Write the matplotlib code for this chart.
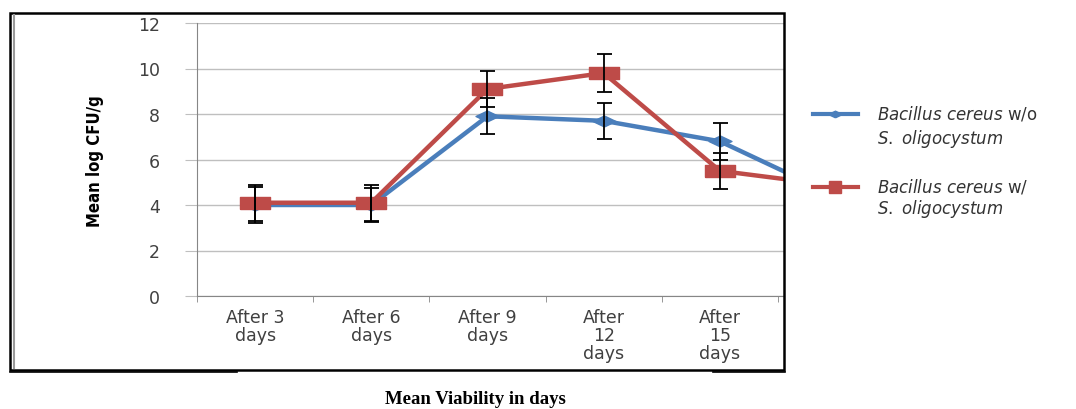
import matplotlib
matplotlib.use("Agg")
import matplotlib.pyplot as plt
from matplotlib.lines import Line2D
from matplotlib.patches import Rectangle
import numpy as np

# data
days = ["After 3\ndays", "After 6\ndays", "After 9\ndays",
        "After\n12\ndays", "After\n15\ndays", "After\n18\ndays"]
without_so = [4.0, 4.0, 7.9, 7.7, 6.8, 4.4]
with_so = [4.1, 4.1, 9.1, 9.8, 5.5, 4.85]
err_without = [0.8, 0.75, 0.8, 0.8, 0.8, 0.8]
err_with = [0.8, 0.8, 0.8, 0.82, 0.8, 0.8]
y_ticks = [0, 2, 4, 6, 8, 10, 12]

blue = "#4a7ebb"
red = "#be4b48"

plt.rcParams["mathtext.fontset"] = "custom"
plt.rcParams["mathtext.it"] = "DejaVu Sans:italic"
plt.rcParams["mathtext.rm"] = "DejaVu Sans"

W, H = 1076, 410
fig = plt.figure(figsize=(W / 100, H / 100), dpi=100)


def fx(px):
    return px / W


def fy(py):
    return (H - py) / H


# plot area: 197..784 px wide, 24..297 px tall
ax = fig.add_axes([fx(197), fy(297), fx(784) - fx(197), fy(24) - fy(297)])

x = np.arange(len(days))
diamond = [(0, -0.5), (1.05, 0), (0, 0.5), (-1.05, 0), (0, -0.5)]
wide_sq = [(-1.25, -0.5), (1.25, -0.5), (1.25, 0.5), (-1.25, 0.5), (-1.25, -0.5)]

ax.plot(x, without_so, color=blue, lw=3.2, marker=diamond, ms=16.5, zorder=3)
ax.plot(x, with_so, color=red, lw=3.2, marker=wide_sq, ms=22, zorder=4)
ax.errorbar(x, without_so, yerr=err_without, fmt="none", ecolor="black",
            elinewidth=1.3, capsize=5.4, capthick=1.3, zorder=5)
ax.errorbar(x, with_so, yerr=err_with, fmt="none", ecolor="black",
            elinewidth=1.3, capsize=5.4, capthick=1.3, zorder=5)

ax.set_yticks(y_ticks)
ax.set_yticklabels([str(v) for v in y_ticks], fontsize=12.5, color="#404040")
ax.set_xticks(x)
ax.set_xticklabels(days, fontsize=12.5, color="#404040", linespacing=1.0)
ax.set_xticks(np.arange(-0.5, 5.0, 1.0), minor=True)
# limits after the ticks, so the 6th point stays cut off by the frame
ax.set_ylim(0, 12)
ax.set_xlim(-0.5, 4.552)
ax.tick_params(axis="x", which="major", length=0, pad=9)
ax.tick_params(axis="x", which="minor", length=4, color="#868686", direction="out")
ax.tick_params(axis="y", length=8.6, color="#bfbfbf", pad=18)
ax.yaxis.grid(True, color="#bfbfbf", lw=1)
ax.set_axisbelow(True)
for s in ["top", "right"]:
    ax.spines[s].set_visible(False)
ax.spines["left"].set_color("#868686")
ax.spines["bottom"].set_color("#868686")

fig.text(fx(95), fy(161), "Mean log CFU/g", rotation=90, ha="center", va="center",
         fontsize=12, fontweight="bold", fontstretch="condensed",
         family=["Liberation Sans Narrow", "DejaVu Sans Condensed", "DejaVu Sans"])

# outer frame around the chart
fig.add_artist(Rectangle((fx(10), fy(371)), fx(784) - fx(10), fy(14) - fy(371),
                         transform=fig.transFigure, fill=False, ec="black", lw=1.8))
fig.add_artist(Line2D([fx(14), fx(14)], [fy(16), fy(369)], transform=fig.transFigure,
                      color="#9a9a9a", lw=1.5))
fig.add_artist(Line2D([fx(10), fx(237)], [fy(372.5), fy(372.5)], transform=fig.transFigure,
                      color="black", lw=1.2))
fig.add_artist(Line2D([fx(713), fx(785)], [fy(372.5), fy(372.5)], transform=fig.transFigure,
                      color="black", lw=1.2))

# legend, drawn beside the frame
entries = [
    (blue, diamond, 10, 115, r"$\mathit{Bacillus\ cereus}$ w/o", 139),
    (red, "s", 9, 188, r"$\mathit{Bacillus\ cereus}$ w/", 209),
]
for col, mk, ms, ly, first, second_y in entries:
    fig.add_artist(Line2D([fx(813), fx(835), fx(858)], [fy(ly)] * 3,
                          transform=fig.transFigure, color=col, lw=3,
                          marker=mk, ms=ms, markevery=[1]))
    fig.text(fx(877), fy(ly - 1), first, fontsize=12, color="#333333", va="center")
    fig.text(fx(877), fy(second_y), r"$\mathit{S.\ oligocystum}$", fontsize=12,
             color="#333333", va="center")

fig.text(fx(475), fy(400), "Mean Viability in days", ha="center", va="center",
         fontsize=13.5, fontweight="bold", family=["Liberation Serif", "DejaVu Serif"])

fig.savefig("out.png", dpi=100)
